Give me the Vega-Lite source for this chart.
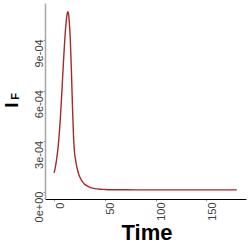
{
  "$schema": "https://vega.github.io/schema/vega-lite/v6.json",
  "width": 201,
  "height": 196,
  "autosize": {"type": "none"},
  "padding": {"left": 45, "top": 3, "right": 3, "bottom": 50},
  "background": "white",
  "config": {"view": {"stroke": null}, "axis": {"grid": false}},
  "data": {"values": [
    {"t": 0, "v": 0.000114}, {"t": 1, "v": 0.000142}, {"t": 2, "v": 0.000176},
    {"t": 3, "v": 0.000218}, {"t": 4, "v": 0.000272}, {"t": 5, "v": 0.00034},
    {"t": 6, "v": 0.000425}, {"t": 7, "v": 0.000525}, {"t": 8, "v": 0.000635},
    {"t": 9, "v": 0.00075}, {"t": 10, "v": 0.000855}, {"t": 11, "v": 0.000945},
    {"t": 12, "v": 0.001015}, {"t": 13, "v": 0.00106}, {"t": 13.5, "v": 0.001067},
    {"t": 14, "v": 0.00106}, {"t": 15, "v": 0.001}, {"t": 16, "v": 0.00089},
    {"t": 17, "v": 0.00072}, {"t": 18, "v": 0.00052}, {"t": 19, "v": 0.000345},
    {"t": 20, "v": 0.00024}, {"t": 21, "v": 0.000195}, {"t": 22, "v": 0.00016},
    {"t": 23, "v": 0.000132}, {"t": 24, "v": 0.00011}, {"t": 25, "v": 0.000093},
    {"t": 26, "v": 0.00008}, {"t": 27, "v": 0.000069}, {"t": 28, "v": 0.00006},
    {"t": 29, "v": 0.000053}, {"t": 30, "v": 0.000047}, {"t": 32, "v": 0.000038},
    {"t": 34, "v": 0.0000315}, {"t": 36, "v": 0.0000265}, {"t": 38, "v": 0.000023},
    {"t": 40, "v": 0.0000205}, {"t": 45, "v": 0.000017}, {"t": 50, "v": 0.0000155},
    {"t": 60, "v": 0.000014}, {"t": 70, "v": 0.0000135}, {"t": 80, "v": 0.000013},
    {"t": 100, "v": 0.000013}, {"t": 120, "v": 0.000013}, {"t": 140, "v": 0.000013},
    {"t": 160, "v": 0.000013}, {"t": 180, "v": 0.000013}
  ]},
  "resolve": {"scale": {"y": "independent"}},
  "layer": [
    {
      "mark": {"type": "line", "color": "#a52a2a", "strokeWidth": 1.4, "interpolate": "monotone"},
      "encoding": {
        "x": {
          "field": "t", "type": "quantitative",
          "scale": {"domain": [-9, 189], "nice": false, "zero": false},
          "axis": {
            "values": [0, 50, 100, 150],
            "title": "Time", "titleFontSize": 22, "titleFontWeight": "bold", "titleColor": "black",
            "titleFont": "Liberation Sans", "titleBaseline": "alphabetic", "titleY": 40, "titleX": 101.5,
            "titleAlign": "center",
            "labelAngle": -90, "labelAlign": "right", "labelBaseline": "top",
            "labelFontSize": 11, "labelFont": "Liberation Sans", "labelColor": "#404040",
            "labelPadding": 1,
            "tickSize": 2, "tickColor": "#999999", "tickWidth": 1,
            "domainColor": "black", "domainWidth": 1
          }
        },
        "y": {
          "field": "v", "type": "quantitative",
          "scale": {"domain": [-0.000041, 0.001118], "nice": false, "zero": false},
          "axis": {
            "values": [0, 0.0003, 0.0006, 0.0009],
            "labelExpr": "datum.value < 0.0001 ? '0e+00' : datum.value < 0.0004 ? '3e-04' : datum.value < 0.0007 ? '6e-04' : '9e-04'",
            "labelAngle": -90, "labelAlign": "right", "labelBaseline": "alphabetic",
            "labelFontSize": 11, "labelFont": "Liberation Sans", "labelColor": "#404040",
            "labelPadding": 1, "labelOffset": -1,
            "tickSize": 2, "tickColor": "#999999", "tickWidth": 1,
            "domainColor": "#a6a6a6", "domainWidth": 1.5,
            "title": "I", "titleFontSize": 19, "titleFontWeight": "bold", "titleColor": "black",
            "titleFont": "Liberation Sans", "titleAngle": -90, "titleAlign": "center",
            "titleBaseline": "alphabetic", "titleX": -28, "titleY": 101.5
          }
        }
      }
    },
    {
      "mark": {"type": "line", "opacity": 0},
      "encoding": {
        "x": {"field": "t", "type": "quantitative"},
        "y": {
          "field": "v", "type": "quantitative",
          "scale": {"domain": [-0.000041, 0.001118], "nice": false, "zero": false},
          "axis": {
            "orient": "right", "domain": false, "ticks": false, "labels": false,
            "title": "F", "titleFontSize": 11, "titleFontWeight": "bold", "titleColor": "black",
            "titleFont": "Liberation Sans", "titleAngle": -90, "titleAlign": "center",
            "titleBaseline": "alphabetic", "titleX": -228, "titleY": 93
          }
        }
      }
    }
  ]
}
